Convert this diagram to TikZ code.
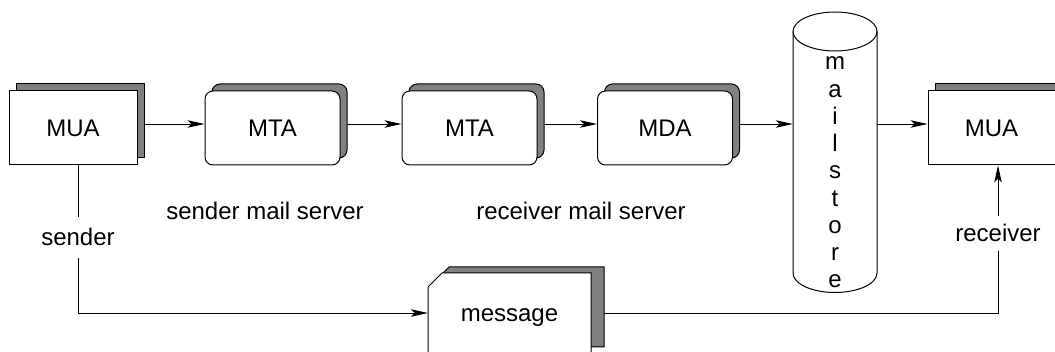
\documentclass[tikz,border=0pt]{standalone}
\usepackage{fontspec}
\setmainfont{Liberation Sans}
\usetikzlibrary{arrows.meta,shadows,backgrounds}
\begin{document}
\begin{tikzpicture}[x=1pt,y=-1pt,
  font=\fontsize{24}{28}\selectfont,
  conn/.style={line width=0.9pt},
  arr/.style={conn,-{Stealth[length=17pt,width=7.5pt,inset=4pt]}},
  shadowbox/.style={draw=black,fill=white,line width=1pt,inner sep=0pt,minimum height=74pt,
     copy shadow={shadow xshift=7pt,shadow yshift=7pt,fill=gray,draw=black}},
  agent/.style={shadowbox,minimum width=128pt},
  server/.style={shadowbox,rounded corners=8pt,minimum width=135pt},
  lbl/.style={inner sep=0pt}]
\useasboundingbox (0,0) rectangle (1055,352);

% boxes
\node[agent] (mua1) at (73,128) {MUA};
\node[server] (mta1) at (272.5,128) {MTA};
\node[server] (mta2) at (469.5,128) {MTA};
\node[server] (mda) at (665,128) {MDA};
\node[agent,minimum width=127pt] (mua2) at (991.5,128) {MUA};

% mail store cylinder
\draw[line width=1pt,fill=white] (793,31.5) -- (793,273)
  arc[start angle=180,end angle=360,x radius=42pt,y radius=19.5pt]
  -- (877,31.5)
  arc[start angle=0,end angle=180,x radius=42pt,y radius=19.5pt] -- cycle;
\draw[line width=1pt] (793,31.5) arc[start angle=180,end angle=360,x radius=42pt,y radius=19.5pt];
\node[lbl,minimum width=84pt,minimum height=241.5pt] (store) at (835,152.25) {};
\foreach \c [count=\i] in {m,a,i,l,s,t,o,r,e}
  \node[lbl,anchor=base] (st\i) at (835,{70+(\i-1)*27.25}) {\c};

% labels
\node[lbl,anchor=base] (sms) at (265,220) {sender mail server};
\node[lbl,anchor=base] (rms) at (581,220) {receiver mail server};
\node[anchor=base,inner xsep=0pt,inner ysep=11.5pt] (snd) at (78,246) {sender};
\node[anchor=base,inner xsep=0pt,inner ysep=8.5pt] (rcv) at (998,242) {receiver};

% message document
\draw[line width=1pt,fill=gray] (435,281) -- (449,267) -- (604,267) -- (604,347) -- (435,347) -- cycle;
\draw[line width=1pt,fill=white] (428,362) -- (428,287) -- (442,273) -- (591,273) -- (591,362);
\node[lbl,minimum width=163pt] (msg) at (509.5,318) {message};

% connectors
\begin{scope}[on background layer]
\draw[arr] ([yshift=4pt]mua1.east) -- ([yshift=4pt]mta1.west);
\draw[arr] ([yshift=4pt]mta1.east) -- ([yshift=4pt]mta2.west);
\draw[arr] ([yshift=4pt]mta2.east) -- ([yshift=4pt]mda.west);
\draw[arr] ([yshift=4pt]mda.east) -- ([yshift=4pt]mda.east -| store.west);
\draw[arr] ([yshift=4pt]mua2.west -| store.east) -- ([yshift=4pt]mua2.west);
\draw[conn] (snd.north) -- (snd.north |- mua1.south);
\draw[arr] (snd.south) |- ([yshift=5pt]msg.west);
\draw[conn] ([yshift=5pt]msg.east) -| (rcv.south);
\draw[arr] (rcv.north) -- (rcv.north |- mua2.south);
\end{scope}
\end{tikzpicture}
\end{document}
